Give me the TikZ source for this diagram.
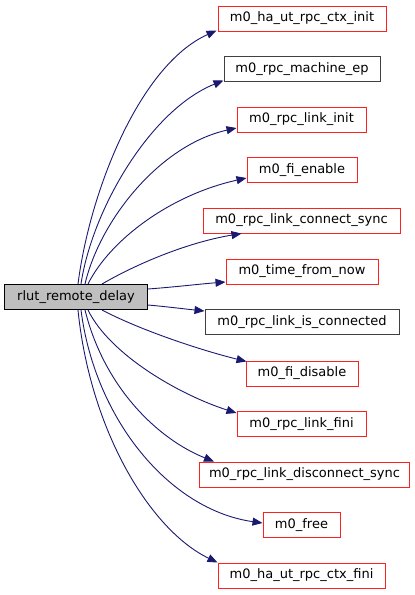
\documentclass[tikz,border=0pt]{standalone}
\usepackage{fontspec}
\setmainfont{DejaVu Sans}
\usetikzlibrary{arrows.meta}
\definecolor{edgeblue}{HTML}{191970}
\definecolor{boxred}{HTML}{FF2020}
\definecolor{boxgrey}{HTML}{404040}
\definecolor{mainfill}{HTML}{BFBFBF}
\tikzset{
  fn/.style={rectangle, draw, line width=1pt, minimum height=25pt, inner sep=0pt,
    font=\fontsize{13}{15}\selectfont, fill=white},
  redbox/.style={fn, draw=boxred},
  blackbox/.style={fn, draw=boxgrey},
  mainbox/.style={fn, draw=black, fill=mainfill},
  call/.style={draw=edgeblue, line width=0.9pt, -{Triangle[length=10pt,width=8pt]}, fill=none}
}
\begin{document}
\begin{tikzpicture}[x=1pt, y=-1pt]
\useasboundingbox (0,0) rectangle (415,595);
\node[mainbox, minimum width=143pt] (main) at (76,297) {rlut\_remote\_delay};
\node[redbox, minimum width=168pt] (n1) at (302,18.5) {m0\_ha\_ut\_rpc\_ctx\_init};
\node[blackbox, minimum width=156pt] (n2) at (302,69) {m0\_rpc\_machine\_ep};
\node[redbox, minimum width=129pt] (n3) at (301.5,119.5) {m0\_rpc\_link\_init};
\node[redbox, minimum width=110pt] (n4) at (302,170) {m0\_fi\_enable};
\node[redbox, minimum width=197pt] (n5) at (301.5,220.5) {m0\_rpc\_link\_connect\_sync};
\node[redbox, minimum width=152pt] (n6) at (302,271.5) {m0\_time\_from\_now};
\node[blackbox, minimum width=194pt] (n7) at (302,322) {m0\_rpc\_link\_is\_connected};
\node[redbox, minimum width=112pt] (n8) at (302,373.5) {m0\_fi\_disable};
\node[redbox, minimum width=129pt] (n9) at (301.5,424) {m0\_rpc\_link\_fini};
\node[redbox, minimum width=210pt] (n10) at (304.5,474.5) {m0\_rpc\_link\_disconnect\_sync};
\node[redbox, minimum width=77pt] (n11) at (301.5,525) {m0\_free};
\node[redbox, minimum width=167pt] (n12) at (301.5,575.5) {m0\_ha\_ut\_rpc\_ctx\_fini};

\draw[call] ([xshift=2pt]main.north) .. controls (90,190) and (140,65) .. ([xshift=-1pt,yshift=1pt]n1.south west);
\draw[call] ([xshift=5pt]main.north) .. controls (92,210) and (150,110) .. ([yshift=1.5pt]n2.south west);
\draw[call] ([xshift=9pt]main.north) .. controls (100,220) and (160,145) .. ([yshift=-8.5pt]n3.west);
\draw[call] ([xshift=12pt]main.north) .. controls (110,240) and (170,195) .. ([yshift=-8pt]n4.west);
\draw[call] ([xshift=26pt]main.north) .. controls (140,262) and (190,242) .. ([xshift=39pt]n5.south west);
\draw[call] ([yshift=8pt]main.east) .. controls (175,287) and (200,284) .. ([yshift=-10.5pt]n6.west);
\draw[call] ([yshift=-8pt]main.east) .. controls (170,307) and (185,309) .. ([yshift=11pt]n7.west);
\draw[call] ([xshift=26pt]main.south) .. controls (140,330) and (200,350) .. ([xshift=1pt,yshift=-1pt]n8.north west);
\draw[call] ([xshift=12pt]main.south) .. controls (110,355) and (180,395) .. ([yshift=-2pt]n9.north west);
\draw[call] ([xshift=9pt]main.south) .. controls (105,390) and (160,440) .. ([xshift=15pt]n10.north west);
\draw[call] ([xshift=5pt]main.south) .. controls (95,420) and (170,510) .. ([yshift=2pt]n11.west);
\draw[call] ([xshift=2pt]main.south) .. controls (90,430) and (150,530) .. (n12.north west);
\end{tikzpicture}
\end{document}
